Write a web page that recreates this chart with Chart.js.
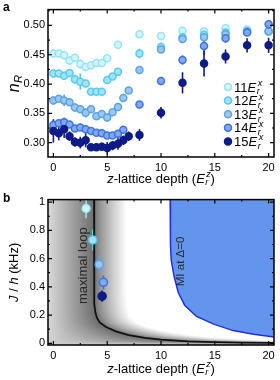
<!DOCTYPE html>
<html>
<head>
<meta charset="utf-8">
<script src="https://cdn.jsdelivr.net/npm/chart.js@4.4.1/dist/chart.umd.min.js"></script>
<style>
  body { margin: 0; background: #fff; width: 280px; height: 380px; overflow: hidden; }
  .panel { position: absolute; left: 0; width: 280px; height: 190px; }
  #panelA { top: 0; }
  #panelB { top: 190px; }
</style>
</head>
<body>
<div class="panel" id="panelA"><canvas id="chartA" width="280" height="190"></canvas></div>
<div class="panel" id="panelB"><canvas id="chartB" width="280" height="190"></canvas></div>
<script>
// ---- panel a: n_R vs z-lattice depth, one series per x-lattice depth ----
const seriesNames = ['11', '12', '13', '14', '15'];

const depth11 = [0, 0.5, 1, 1.5, 2, 2.5, 3, 3.5, 4, 4.5, 5, 6, 8, 10, 12, 14, 16, 18, 20];
const nR11 = [0.452, 0.452, 0.449, 0.440, 0.445, 0.434, 0.429, 0.432, 0.436, 0.436, 0.444, 0.467, 0.485, 0.482, 0.491, 0.490, 0.495, 0.493, 0.489];
const err11 = [0.004, 0.004, 0.006, 0.008, 0.006, 0.008, 0.005, 0.005, 0.007, 0.006, 0.005, 0.004, 0.006, 0.005, 0.005, 0.005, 0.005, 0.004, 0.005];

const depth12 = [0, 0.5, 1, 1.5, 2, 2.5, 3, 3.5, 4, 4.5, 5, 5.5, 6, 8, 10, 12, 14, 16, 18, 20];
const nR12 = [0.418, 0.418, 0.414, 0.419, 0.408, 0.404, 0.401, 0.387, 0.387, 0.387, 0.407, 0.413, 0.421, 0.452, 0.463, 0.480, 0.484, 0.488, 0.490, 0.490];
const err12 = [0.004, 0.004, 0.006, 0.006, 0.008, 0.014, 0.006, 0.004, 0.004, 0.004, 0.006, 0.006, 0.005, 0.008, 0.008, 0.008, 0.006, 0.010, 0.006, 0.006];

const depth13 = [0, 0.5, 1, 1.5, 2, 2.5, 3, 3.5, 4, 4.5, 5, 5.5, 6, 6.5, 7, 8, 10, 12, 14, 16, 18, 20];
const nR13 = [0.372, 0.375, 0.372, 0.369, 0.360, 0.357, 0.351, 0.357, 0.345, 0.349, 0.343, 0.352, 0.361, 0.376, 0.389, 0.424, 0.459, 0.477, 0.480, 0.485, 0.489, 0.490];
const err13 = [0.007, 0.006, 0.010, 0.006, 0.007, 0.006, 0.008, 0.006, 0.005, 0.006, 0.007, 0.006, 0.006, 0.005, 0.005, 0.005, 0.006, 0.006, 0.006, 0.008, 0.006, 0.006];

const depth14 = [0, 0.5, 1, 1.5, 2, 2.5, 3, 3.5, 4, 4.5, 5, 5.5, 6, 6.5, 8, 10, 12, 14, 16, 18, 20];
const nR14 = [0.330, 0.333, 0.335, 0.331, 0.324, 0.326, 0.323, 0.320, 0.317, 0.316, 0.312, 0.312, 0.315, 0.322, 0.365, 0.405, 0.441, 0.465, 0.478, 0.488, 0.502];
const err14 = [0.006, 0.006, 0.008, 0.006, 0.006, 0.005, 0.006, 0.006, 0.006, 0.005, 0.005, 0.005, 0.006, 0.005, 0.006, 0.007, 0.008, 0.015, 0.008, 0.006, 0.006];

const depth15 = [0, 0.5, 1, 1.5, 2, 2.5, 3, 3.5, 4, 4.5, 5, 5.5, 6, 6.5, 7, 8, 10, 12, 14, 16, 18, 20];
const nR15 = [0.320, 0.316, 0.323, 0.311, 0.301, 0.300, 0.304, 0.292, 0.292, 0.293, 0.291, 0.295, 0.298, 0.304, 0.311, 0.313, 0.351, 0.402, 0.435, 0.447, 0.466, 0.466];
const err15 = [0.020, 0.012, 0.015, 0.008, 0.008, 0.010, 0.012, 0.005, 0.006, 0.007, 0.010, 0.008, 0.010, 0.008, 0.008, 0.010, 0.010, 0.018, 0.022, 0.012, 0.012, 0.013];

// ---- panel b: hopping J/h vs z-lattice depth ----
const hopDepth = [3.04, 3.66, 4.25, 4.65, 4.53];
const hopJ = [0.955, 0.732, 0.559, 0.432, 0.334];
const hopErr = [0.070, 0.075, 0.060, 0.050, 0.040];

// maximal loop boundary (black line)
const loopDepth = [3.78, 3.78, 3.79, 3.82, 3.90, 4.05, 4.30, 4.90, 5.80, 7.00, 8.50, 10.0, 12.5, 15.0, 17.5, 20.6];
const loopJ = [1.03, 0.60, 0.35, 0.28, 0.22, 0.18, 0.148, 0.115, 0.085, 0.058, 0.038, 0.026, 0.014, 0.008, 0.005, 0.003];

// MI at Delta=0 boundary (blue line)
const miDepth = [10.85, 10.88, 10.95, 11.2, 11.6, 12.2, 13.3, 14.9, 16.7, 18.6, 20.6];
const miJ = [1.03, 0.70, 0.59, 0.48, 0.36, 0.27, 0.19, 0.136, 0.09, 0.064, 0.043];

// tick labels
const depthTicks = [0, 5, 10, 15, 20];
const nRTicks = [0.30, 0.35, 0.40, 0.45, 0.50];
const jTicks = [0, 0.2, 0.4, 0.6, 0.8, 1];

// styles
const ringColors = ['#96e4f7', '#58caf1', '#5aa4e5', '#3b74e4', '#0d1a88'];
const fillColors = ['#d2f5fd', '#a2e3f8', '#9cc6ef', '#84a8ef', '#0d1a88'];
const family = '"Liberation Sans", Arial, Helvetica, sans-serif';
const font = (size, italic, bold) => `${italic ? 'italic ' : ''}${bold ? 'bold ' : ''}${size}px ${family}`;

// text with italics and stacked sub/superscripts
function richWidth(ctx, parts, size) {
  let w = 0;
  for (const p of parts) {
    if (p.sub !== undefined || p.sup !== undefined) {
      ctx.font = font(size * 0.7, true);
      w += Math.max(ctx.measureText(p.sub || '').width, ctx.measureText(p.sup || '').width) + 1;
    } else {
      ctx.font = font(size, p.it);
      w += ctx.measureText(p.t).width;
    }
  }
  return w;
}
function drawRich(ctx, parts, x, y, size) {
  ctx.textAlign = 'left';
  ctx.textBaseline = 'alphabetic';
  for (const p of parts) {
    if (p.sub !== undefined || p.sup !== undefined) {
      ctx.font = font(size * 0.7, true);
      if (p.sub) ctx.fillText(p.sub, x + 0.5, y + size * 0.22);
      if (p.sup) ctx.fillText(p.sup, x + 1.5, y - size * 0.42);
      x += Math.max(ctx.measureText(p.sub || '').width, ctx.measureText(p.sup || '').width) + 1;
    } else {
      ctx.font = font(size, p.it);
      ctx.fillText(p.t, x, y);
      x += ctx.measureText(p.t).width;
    }
  }
}
function drawRichCentered(ctx, parts, cx, cy, size, angle) {
  ctx.save();
  ctx.translate(cx, cy);
  ctx.rotate(angle || 0);
  ctx.fillStyle = '#000';
  const w = richWidth(ctx, parts, size);
  drawRich(ctx, parts, -w / 2, size * 0.35, size);
  ctx.restore();
}

const depthTitle = [{t: 'z', it: true}, {t: '-lattice depth ('}, {t: 'E', it: true}, {sub: 'r', sup: 'z'}, {t: ')'}];

// frame with inward major/minor ticks on all four sides
const framePlugin = {
  id: 'frame',
  afterDatasetsDraw(chart, args, opts) {
    const {ctx, chartArea: a, scales: {x, y}} = chart;
    ctx.save();
    ctx.strokeStyle = '#000';
    ctx.lineWidth = 1.5;
    ctx.strokeRect(a.left, a.top, a.right - a.left, a.bottom - a.top);
    const withMinor = (major, scale) => {
      const step = major[1] - major[0];
      const out = major.map(v => ({v, len: 4}));
      for (let v = major[0] - step / 2; v <= scale.max + 1e-9; v += step) {
        if (v >= scale.min - 1e-9) out.push({v, len: 2});
      }
      return out;
    };
    ctx.lineWidth = 1.2;
    ctx.beginPath();
    for (const t of withMinor(opts.xTicks, x)) {
      const px = x.getPixelForValue(t.v);
      ctx.moveTo(px, a.bottom); ctx.lineTo(px, a.bottom - t.len);
      ctx.moveTo(px, a.top); ctx.lineTo(px, a.top + t.len);
    }
    for (const t of withMinor(opts.yTicks, y)) {
      const py = y.getPixelForValue(t.v);
      ctx.moveTo(a.left, py); ctx.lineTo(a.left + t.len, py);
      ctx.moveTo(a.right, py); ctx.lineTo(a.right - t.len, py);
    }
    ctx.stroke();
    ctx.restore();
  }
};

const errorBars = {
  id: 'errorBars',
  beforeDatasetsDraw(chart) {
    const {ctx, scales: {y}} = chart;
    ctx.save();
    ctx.lineWidth = 1.6;
    chart.data.datasets.forEach((ds, i) => {
      if (!ds.errors) return;
      chart.getDatasetMeta(i).data.forEach((pt, j) => {
        const v = ds.data[j].y, e = ds.errors[j];
        ctx.strokeStyle = Array.isArray(ds.errorColor) ? ds.errorColor[j] : ds.errorColor;
        ctx.beginPath();
        ctx.moveTo(pt.x, y.getPixelForValue(v - e));
        ctx.lineTo(pt.x, y.getPixelForValue(v + e));
        ctx.stroke();
      });
    });
    ctx.restore();
  }
};

function axisOptions(min, max, ticks, fmt, fitSize, isX) {
  return {
    type: 'linear', min, max,
    afterBuildTicks: s => { s.ticks = ticks.map(v => ({value: v})); },
    afterFit: s => { if (isX) s.height = fitSize; else s.width = fitSize; },
    grid: {display: false, drawTicks: false},
    border: {display: false},
    ticks: {font: {size: 11, family}, color: '#000', padding: isX ? 4 : 3, maxRotation: 0, autoSkip: false, callback: fmt}
  };
}

// ---- chart a ----
const depthsA = [depth11, depth12, depth13, depth14, depth15];
const valuesA = [nR11, nR12, nR13, nR14, nR15];
const errorsA = [err11, err12, err13, err14, err15];

const datasetsA = seriesNames.map((name, i) => ({
  label: name,
  data: depthsA[i].map((d, j) => ({x: d, y: valuesA[i][j]})),
  errors: errorsA[i],
  errorColor: ringColors[i],
  pointRadius: 3.5,
  pointBorderWidth: 1.5,
  pointBackgroundColor: fillColors[i],
  pointBorderColor: ringColors[i],
  order: 4 - i
}));

const decorA = {
  id: 'decorA',
  afterDraw(chart) {
    const {ctx, chartArea: a} = chart;
    ctx.save();
    ctx.fillStyle = '#000';
    ctx.font = font(12, false, true);
    ctx.fillText('a', 3, 11);
    // legend
    seriesNames.forEach((name, i) => {
      const cx = 228, cy = 87 + i * 13.6;
      ctx.beginPath();
      ctx.arc(cx, cy, 3.5, 0, Math.PI * 2);
      ctx.fillStyle = fillColors[i];
      ctx.fill();
      ctx.lineWidth = 1.5;
      ctx.strokeStyle = ringColors[i];
      ctx.stroke();
      ctx.fillStyle = '#000';
      drawRich(ctx, [{t: name}, {t: 'E', it: true}, {sub: 'r', sup: 'x'}], 234, cy + 4.5, 13);
    });
    drawRichCentered(ctx, depthTitle, (a.left + a.right) / 2, 178, 13, 0);
    drawRichCentered(ctx, [{t: 'n', it: true}, {sub: 'R'}], 13, (a.top + a.bottom) / 2, 16, -Math.PI / 2);
    ctx.restore();
  }
};

new Chart(document.getElementById('chartA'), {
  type: 'scatter',
  data: {datasets: datasetsA},
  options: {
    responsive: false,
    animation: false,
    layout: {padding: {left: 0, right: 6, top: 8, bottom: 0}},
    plugins: {legend: {display: false}, tooltip: {enabled: false},
      frame: {xTicks: depthTicks, yTicks: nRTicks}},
    scales: {
      x: axisOptions(-0.5, 20.5, depthTicks, v => String(v), 33, true),
      y: axisOptions(0.2755, 0.527, nRTicks, v => v.toFixed(2), 48, false)
    }
  },
  plugins: [errorBars, framePlugin, decorA]
});

// ---- chart b ----
function loopDepthAt(J) {
  if (J >= loopJ[0]) return loopDepth[0];
  for (let k = 1; k < loopJ.length; k++) {
    if (J >= loopJ[k]) {
      const t = (J - loopJ[k]) / (loopJ[k - 1] - loopJ[k]);
      return loopDepth[k] + t * (loopDepth[k - 1] - loopDepth[k]);
    }
  }
  return 40;
}

// grey shading around the maximal loop
const loopShade = {
  id: 'loopShade',
  beforeDatasetsDraw(chart) {
    const {ctx, chartArea: a, scales: {x, y}} = chart;
    const w = Math.round(a.right - a.left), h = Math.round(a.bottom - a.top);
    const off = document.createElement('canvas');
    off.width = w; off.height = h;
    const octx = off.getContext('2d');
    const img = octx.createImageData(w, h);
    for (let j = 0; j < h; j++) {
      const c = loopDepthAt(y.getValueForPixel(a.top + j + 0.5));
      for (let i = 0; i < w; i++) {
        const r = x.getValueForPixel(a.left + i + 0.5) / c;
        let v;
        if (r <= 1) v = 205 - 95 * Math.max(r, -0.15);
        else v = Math.min(255, 110 + 145 * Math.pow((r - 1) / 0.8, 0.8));
        const k = (j * w + i) * 4;
        img.data[k] = img.data[k + 1] = img.data[k + 2] = v;
        img.data[k + 3] = 255;
      }
    }
    octx.putImageData(img, 0, 0);
    ctx.drawImage(off, a.left, a.top);
  }
};

const decorB = {
  id: 'decorB',
  afterDraw(chart) {
    const {ctx, chartArea: a, scales: {x, y}} = chart;
    ctx.save();
    ctx.fillStyle = '#000';
    ctx.font = font(12, false, true);
    ctx.fillText('b', 3, 12);
    drawRichCentered(ctx, depthTitle, (a.left + a.right) / 2, 178, 13, 0);
    drawRichCentered(ctx, [{t: 'J', it: true}, {t: ' / '}, {t: 'h', it: true}, {t: ' (kHz)'}], 13, (a.top + a.bottom) / 2, 13, -Math.PI / 2);
    ctx.restore();
  },
  afterDatasetsDraw(chart) {
    const {ctx, scales: {x, y}} = chart;
    ctx.save();
    ctx.fillStyle = '#2a2a2a';
    ctx.translate(x.getPixelForValue(2.75), y.getPixelForValue(0.55));
    ctx.rotate(-Math.PI / 2);
    ctx.font = font(13);
    ctx.textAlign = 'center';
    ctx.textBaseline = 'middle';
    ctx.fillText('maximal loop', 0, 0);
    ctx.restore();
    ctx.save();
    ctx.fillStyle = '#2a2a2a';
    ctx.translate(x.getPixelForValue(11.8), y.getPixelForValue(0.58));
    ctx.rotate(-Math.PI / 2);
    ctx.font = font(11.5);
    ctx.textAlign = 'center';
    ctx.textBaseline = 'middle';
    ctx.fillText('MI at \u0394=0', 0, 0);
    ctx.restore();
  }
};

new Chart(document.getElementById('chartB'), {
  type: 'scatter',
  data: {
    datasets: [
      {
        data: hopDepth.map((d, i) => ({x: d, y: hopJ[i]})),
        errors: hopErr,
        errorColor: ringColors,
        pointRadius: 4,
        pointBorderWidth: 1.5,
        pointBackgroundColor: fillColors,
        pointBorderColor: ringColors,
        order: 0
      },
      {
        type: 'line',
        data: loopDepth.map((d, i) => ({x: d, y: loopJ[i]})),
        borderColor: '#111',
        borderWidth: 1.8,
        pointRadius: 0,
        tension: 0,
        fill: false,
        order: 1
      },
      {
        type: 'line',
        data: miDepth.map((d, i) => ({x: d, y: miJ[i]})),
        borderColor: '#1f2fe0',
        borderWidth: 1.5,
        backgroundColor: '#6495ec',
        pointRadius: 0,
        tension: 0,
        fill: 'end',
        order: 2
      }
    ]
  },
  options: {
    responsive: false,
    animation: false,
    layout: {padding: {left: 0, right: 6, top: 4, bottom: 0}},
    plugins: {legend: {display: false}, tooltip: {enabled: false},
      frame: {xTicks: depthTicks, yTicks: jTicks}},
    scales: {
      x: axisOptions(-0.5, 20.5, depthTicks, v => String(v), 35, true),
      y: axisOptions(-0.012, 1.018, jTicks, v => String(v), 48, false)
    }
  },
  plugins: [loopShade, errorBars, decorB, framePlugin]
});
</script>
</body>
</html>
